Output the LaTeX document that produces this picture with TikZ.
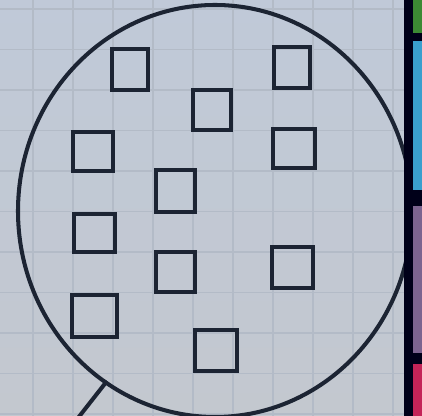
\documentclass[tikz,border=0pt]{standalone}
\usepackage{tikz}
\definecolor{paper}{HTML}{C0C9D8}
\definecolor{paperdark}{HTML}{C3C8CF}
\definecolor{gridline}{HTML}{B3BBC7}
\definecolor{ink}{HTML}{1C2433}
\definecolor{tabgreen}{HTML}{3C8A34}
\definecolor{tabblue}{HTML}{3A9FCE}
\definecolor{tabpurple}{HTML}{7C6490}
\definecolor{tabred}{HTML}{C42458}
\begin{document}
\begin{tikzpicture}[x=0.01cm, y=-0.01cm,
		pen/.style = {ink, line width=1.15pt, line join=round},
		box/.style = {ink, line width=1.3pt, line join=miter}]
		\useasboundingbox (0,0) rectangle (422,416);
		% paper
		\shade [top color=paper, bottom color=paperdark] (0,0) rectangle (404,416);
		\foreach \gx in {33,73,...,393} \draw [gridline, line width=0.4pt] (\gx,0) -- (\gx,416);
		\foreach \gy in {9,49.5,...,416} \draw [gridline, line width=0.4pt] (0,\gy) -- (404,\gy);
		% lens and handle
		\begin{scope}
			\clip (0,0) rectangle (404,416);
			\draw [pen] (215,211) ellipse [x radius=197, y radius=206];
		\end{scope}
		\coordinate (joint) at (107,381);
		\coordinate (grip) at (78,418);
		\draw [pen] (joint) -- (grip);
		% the little squares
		\foreach \xa/\ya/\xb/\yb in {112/49/148/90, 274/47/310/88, 193/90/231/130,
			73/132/113/171, 273/129/315/168, 156/170/195/212, 74/214/115/252,
			156/252/195/292, 272/247/313/288, 72/295/117/337, 195/330/237/371}
			\draw [box] (\xa,\ya) rectangle (\xb,\yb);
		% screen edge
		\fill [black!90!blue] (404,0) rectangle (422,416);
		\fill [tabgreen] (413,0) rectangle (422,33);
		\fill [tabblue] (413,41) rectangle (422,190);
		\fill [tabpurple] (413,206) rectangle (422,353);
		\fill [tabred] (413,364) rectangle (422,416);
	\end{tikzpicture}
\end{document}
